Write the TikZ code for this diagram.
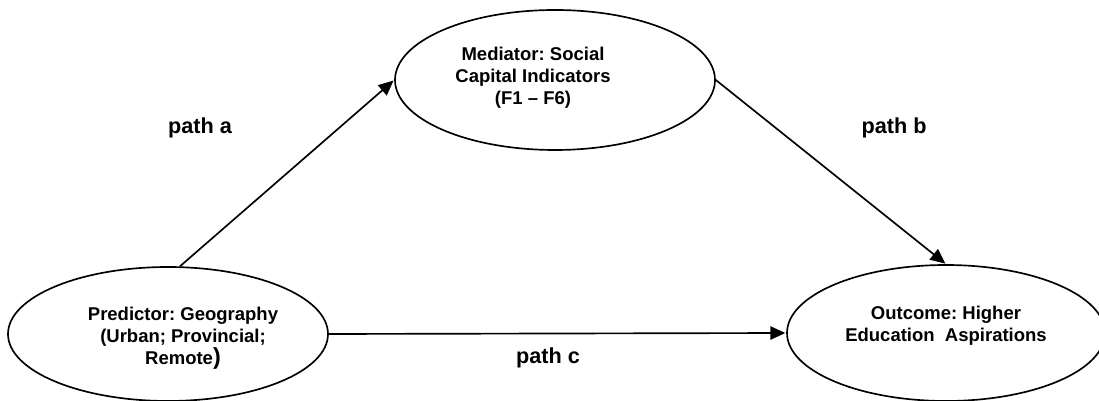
\documentclass[tikz,border=0pt]{standalone}
\usepackage{fontspec}
\setmainfont{Liberation Sans}
\frenchspacing
\usetikzlibrary{shapes.geometric,arrows.meta}
\tikzset{
  oval/.style={ellipse, draw, line width=1pt, inner sep=0pt},
  boxtext/.style={inner sep=0pt, align=center, font=\fontsize{11.1}{13.2}\selectfont\bfseries},
  pathlabel/.style={inner sep=0pt, font=\fontsize{13}{15}\selectfont\bfseries},
  link/.style={line width=1pt, -{Triangle[length=9pt,width=8pt]}, shorten >=0.5pt}
}
\begin{document}
\begin{tikzpicture}[x=0.6pt, y=-0.6pt]
  \useasboundingbox (0,0) rectangle (1099,401);

  % the three variables
  \node[oval, minimum width=192pt, minimum height=80.4pt] (pred) at (168,334) {};
  \node[oval, minimum width=192pt, minimum height=84pt]   (med)  at (555,80)  {};
  \node[oval, minimum width=190.8pt, minimum height=81.6pt] (out) at (946,333) {};

  \node[boxtext] (predtext) at (183,338.5)
    {Predictor: Geography\\(Urban; Provincial;\\Remote{\fontsize{14}{13.2}\selectfont )}};
  \node[boxtext] (medtext) at (533,78)
    {Mediator: Social\\Capital Indicators\\(F1 – F6)};
  \node[boxtext] (outtext) at (946,326)
    {Outcome: Higher\\Education\ \ Aspirations};

  % mediation paths
  \draw[link] (pred.80) -- (med.west);
  \draw[link] (med.east) -- (out.north);
  \draw[link] (pred.east) -- (out.west);

  \node[pathlabel] (la) at (200,128) {path a};
  \node[pathlabel] (lb) at (894,128) {path b};
  \node[pathlabel] (lc) at (548,358) {path c};
\end{tikzpicture}
\end{document}
